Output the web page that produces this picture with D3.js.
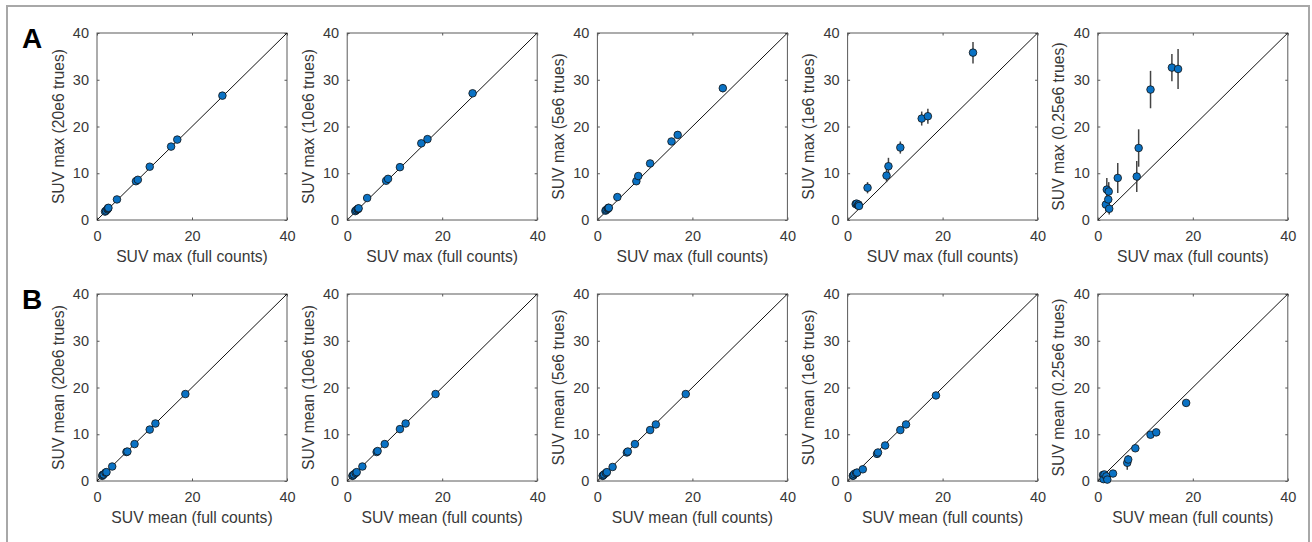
<!DOCTYPE html>
<html>
<head>
<meta charset="utf-8">
<script src="https://cdn.jsdelivr.net/npm/d3@7"></script>
<style>
  body { margin: 0; background: #fff; }
  svg { display: block; font-family: "Liberation Sans", Arial, Helvetica, sans-serif; }
  .tick text { fill: #383838; font-size: 14.5px; }
  .axis-label { fill: #383838; font-size: 15.7px; }
  .panel-letter { fill: #000; font-size: 28px; font-weight: bold; }
</style>
</head>
<body>
<svg width="1312" height="542"></svg>
<script>
// full count reference values (x axis), one per lesion
const maxFull  = [1.7, 1.9, 2.2, 2.3, 2.4, 4.2, 8.2, 8.6, 11.1, 15.6, 16.9, 26.4]
const meanFull = [1.1, 1.2, 1.4, 1.8, 2.0, 3.2, 6.2, 6.4, 7.9, 11.1, 12.3, 18.6]

// reduced count SUV max, one array per count level
const max20  = [1.8, 2.0, 2.3, 2.5, 2.6, 4.4, 8.3, 8.6, 11.4, 15.7, 17.2, 26.6]
const max10  = [1.9, 2.1, 2.3, 2.4, 2.5, 4.7, 8.4, 8.8, 11.3, 16.4, 17.3, 27.1]
const max5   = [2.0, 2.2, 2.4, 2.6, 2.6, 4.9, 8.3, 9.4, 12.1, 16.8, 18.2, 28.2]
const max1   = [3.4, 3.5, 3.1, 3.3, 3.0, 6.9, 9.5, 11.5, 15.5, 21.7, 22.2, 35.8]
const max025 = [3.3, 6.5, 4.4, 6.1, 2.4, 9.0, 9.3, 15.4, 27.9, 32.6, 32.3, null] // last one is off the plot

// half length of the error bars
const max20Err  = [0.2, 0.2, 0.2, 0.2, 0.2, 0.2, 0.3, 0.3, 0.3, 0.3, 0.4, 0.4]
const max10Err  = [0.3, 0.3, 0.3, 0.3, 0.3, 0.3, 0.4, 0.4, 0.4, 0.4, 0.5, 0.6]
const max5Err   = [0.3, 0.3, 0.3, 0.3, 0.3, 0.4, 0.5, 0.6, 0.6, 0.6, 0.7, 0.9]
const max1Err   = [0.5, 0.5, 0.6, 0.6, 0.6, 1.2, 1.4, 1.8, 1.3, 1.5, 1.6, 2.3]
const max025Err = [1.5, 2.5, 1.6, 2.0, 1.2, 3.2, 3.3, 4.0, 4.0, 2.9, 4.3, 0]

// reduced count SUV mean
const mean20  = [1.1, 1.3, 1.4, 1.8, 1.9, 3.1, 6.2, 6.3, 7.9, 11.0, 12.3, 18.6]
const mean10  = [1.1, 1.2, 1.4, 1.7, 1.9, 3.1, 6.2, 6.4, 7.9, 11.1, 12.3, 18.6]
const mean5   = [1.1, 1.2, 1.4, 1.7, 1.9, 3.0, 6.1, 6.3, 7.9, 10.9, 12.1, 18.6]
const mean1   = [1.1, 1.2, 1.5, 1.7, 1.8, 2.5, 5.8, 6.1, 7.6, 10.9, 12.1, 18.3]
const mean025 = [1.3, 0.4, 1.4, 1.0, 0.3, 1.6, 3.9, 4.6, 7.0, 9.9, 10.4, 16.7]

const mean20Err  = [0.1, 0.1, 0.1, 0.1, 0.1, 0.1, 0.1, 0.1, 0.1, 0.1, 0.1, 0.1]
const mean10Err  = [0.1, 0.1, 0.1, 0.1, 0.1, 0.1, 0.2, 0.2, 0.1, 0.1, 0.1, 0.2]
const mean5Err   = [0.1, 0.1, 0.1, 0.2, 0.2, 0.2, 0.3, 0.3, 0.2, 0.2, 0.2, 0.2]
const mean1Err   = [0.2, 0.2, 0.2, 0.3, 0.3, 0.3, 0.6, 0.6, 0.3, 0.3, 0.3, 0.4]
const mean025Err = [0.3, 0.4, 0.3, 0.5, 0.4, 0.3, 1.5, 0.9, 0.4, 0.5, 0.4, 0.4]

const countLabels = ["20e6", "10e6", "5e6", "1e6", "0.25e6"]
const xTicks = [0, 20, 40]
const yTicks = [0, 10, 20, 30, 40]

const rows = [
    { letter: "A", kind: "max",  full: maxFull,  ys: [max20, max10, max5, max1, max025], errs: [max20Err, max10Err, max5Err, max1Err, max025Err] },
    { letter: "B", kind: "mean", full: meanFull, ys: [mean20, mean10, mean5, mean1, mean025], errs: [mean20Err, mean10Err, mean5Err, mean1Err, mean025Err] }
]

const svg = d3.select("svg")

// grey frame around the figure
svg.append("rect")
    .attr("x", 7).attr("y", 6)
    .attr("width", 1302).attr("height", 560)
    .attr("fill", "none")
    .attr("stroke", "#a8a8a8")
    .attr("stroke-width", 2)

const plotW = 190, plotH = 187
const rowTop = [33, 294]
const colLeft = i => 97 + i * 250.2

rows.forEach((row, r) => {
    svg.append("text")
        .attr("class", "panel-letter")
        .attr("x", 22)
        .attr("y", rowTop[r] + 15)
        .text(row.letter)

    row.ys.forEach((ys, c) => {
        const g = svg.append("g")
            .attr("transform", `translate(${colLeft(c)},${rowTop[r]})`)

        const x = d3.scaleLinear().domain([0, 40]).range([0, plotW])
        const y = d3.scaleLinear().domain([0, 40]).range([plotH, 0])

        // axes with inward ticks, mirrored on top/right like a matlab box
        const bottom = g.append("g").attr("transform", `translate(0,${plotH})`)
            .call(d3.axisBottom(x).tickValues(xTicks).tickSizeInner(-2.5).tickSizeOuter(0).tickPadding(11))
        const left = g.append("g")
            .call(d3.axisLeft(y).tickValues(yTicks).tickSizeInner(-2.5).tickSizeOuter(0).tickPadding(8))
        const top = g.append("g")
            .call(d3.axisTop(x).tickValues(xTicks).tickSizeInner(-2.5).tickSizeOuter(0).tickFormat(""))
        const right = g.append("g").attr("transform", `translate(${plotW},0)`)
            .call(d3.axisRight(y).tickValues(yTicks).tickSizeInner(-2.5).tickSizeOuter(0).tickFormat(""))

        ;[bottom, left, top, right].forEach(a => {
            a.selectAll(".domain").remove()
            a.selectAll(".tick line").attr("stroke", "#555")
            a.selectAll(".tick text").attr("font-family", null).attr("font-size", null)
        })

        g.append("rect")
            .attr("width", plotW).attr("height", plotH)
            .attr("fill", "none")
            .attr("stroke", "#5a5a5a")
            .attr("stroke-width", 1)

        // identity line
        g.append("line")
            .attr("x1", x(0)).attr("y1", y(0))
            .attr("x2", x(40)).attr("y2", y(40))
            .attr("stroke", "#111")
            .attr("stroke-width", 1)

        const pts = row.full.map((fx, i) => ({ fx, fy: ys[i], e: row.errs[c][i] }))
            .filter(d => d.fy !== null)

        g.selectAll("line.err").data(pts)
            .enter().append("line")
            .attr("class", "err")
            .attr("x1", d => x(d.fx)).attr("x2", d => x(d.fx))
            .attr("y1", d => y(d.fy - d.e)).attr("y2", d => y(d.fy + d.e))
            .attr("stroke", "#444")
            .attr("stroke-width", 1.5)

        g.selectAll("circle").data(pts)
            .enter().append("circle")
            .attr("cx", d => x(d.fx))
            .attr("cy", d => y(d.fy))
            .attr("r", 3.8)
            .attr("fill", "#0a72c4")
            .attr("stroke", "#111")
            .attr("stroke-width", 0.8)

        g.append("text")
            .attr("class", "axis-label")
            .attr("x", plotW / 2)
            .attr("y", plotH + 42)
            .attr("text-anchor", "middle")
            .text(`SUV ${row.kind} (full counts)`)

        g.append("text")
            .attr("class", "axis-label")
            .attr("transform", `translate(-39,${plotH / 2}) rotate(-90)`)
            .attr("text-anchor", "middle")
            .attr("dy", "0.35em")
            .text(`SUV ${row.kind} (${countLabels[c]} trues)`)
    })
})
</script>
</body>
</html>
